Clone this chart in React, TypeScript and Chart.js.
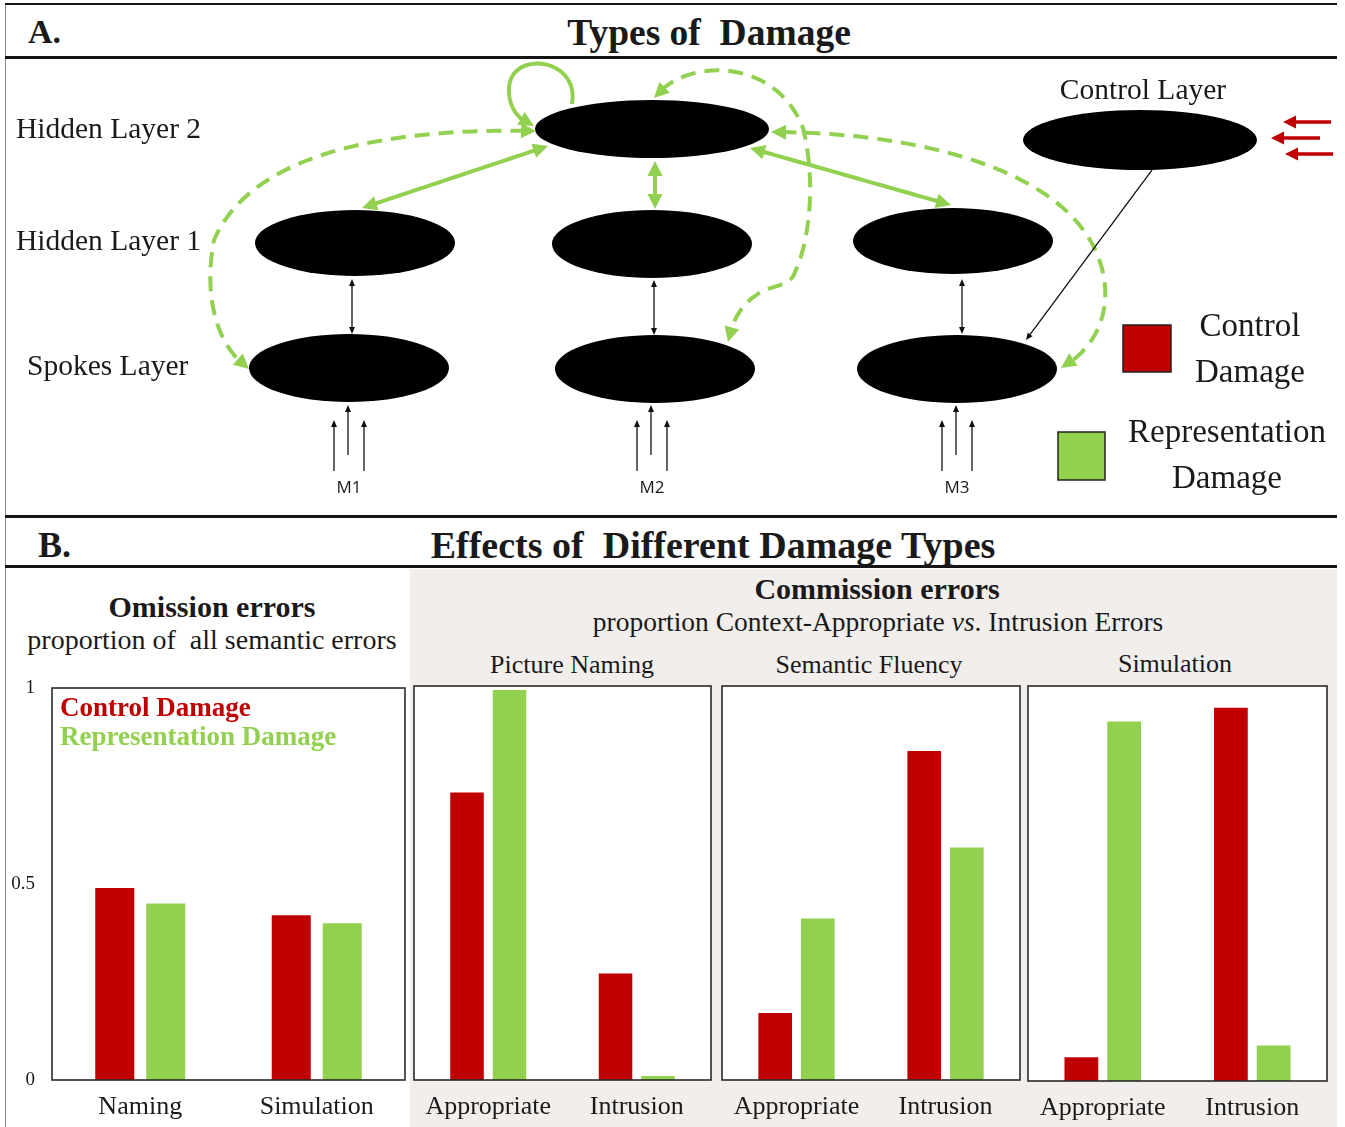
import React, { useEffect, useRef } from "react";
import { Chart, registerables } from "chart.js";

Chart.register(...registerables);

const RED = "#c00000";
const GREEN = "#92d050";
const INK = "#1a1a1a";
const PANEL_GRAY = "#f1eeec";
const SERIF = "'Liberation Serif', 'Times New Roman', serif";
const SANS = "'Open Sans', 'Liberation Sans', sans-serif";

// ---------- B: bar chart data ----------
const seriesLabels = ["Control Damage", "Representation Damage"];
const yTickValues = [0, 0.5, 1];

const omissionCategories = ["Naming", "Simulation"];
const omissionControl = [0.49, 0.42];
const omissionRepresentation = [0.45, 0.4];

const commissionCategories = ["Appropriate", "Intrusion"];
const pictureNamingControl = [0.73, 0.27];
const pictureNamingRepresentation = [0.99, 0.01];
const semanticFluencyControl = [0.17, 0.835];
const semanticFluencyRepresentation = [0.41, 0.59];
const simulationControl = [0.06, 0.945];
const simulationRepresentation = [0.91, 0.09];

// ---------- A: network diagram data ----------
const layerNames = ["Hidden Layer 2", "Hidden Layer 1", "Spokes Layer"];
const layerLabelX = [16, 16, 27];
const layerLabelY = [130, 242, 367];

// units: hidden2, hidden1 (x3), spokes (x3), control
const unitX = [652, 355, 652, 953, 349, 655, 957, 1140];
const unitY = [129, 243, 244, 241, 368, 369, 369, 140];
const unitRx = [117, 100, 100, 100, 100, 100, 100, 117];
const unitRy = [29, 33, 34, 33, 34, 34, 34, 30];

const modalityNames = ["M1", "M2", "M3"];
const modalityX = [349, 652, 957];
const modalityY = 488;
const inputOffsets = [-15, -1, 15];
const inputTop = [420, 405, 420];
const inputBottom = [471, 455, 471];

type Pt = [number, number];

// cubic Bezier chains: a start point followed by [c1, c2, end] triples
const loopPath: Pt[] = [[572, 104], [580, 56], [508, 50], [509, 90], [509, 108], [519, 121], [534, 126]];
const leftDashPath: Pt[] = [[536, 131], [410, 128], [255, 145], [214, 240], [204, 292], [214, 344], [249, 369]];
const midDashPath: Pt[] = [
  [654, 98], [684, 58], [775, 56], [803, 128],
  [816, 180], [810, 240], [795, 272],
  [790, 288], [770, 284], [755, 296],
  [740, 306], [731, 324], [728, 342],
];
const rightDashPath: Pt[] = [[771, 132], [920, 132], [1070, 170], [1100, 262], [1114, 304], [1100, 346], [1061, 368]];

// straight green connections (two-headed)
const greenLinks: number[][] = [
  [548, 146, 362, 208],
  [655, 161, 655, 209],
  [750, 148, 951, 205],
];
// thin black connections hidden1 <-> spokes
const thinLinks: number[][] = [
  [352, 279, 352, 334],
  [654, 280, 654, 335],
  [962, 279, 962, 334],
];
const controlLink = [1152, 170, 1026, 340];
// red inputs into the control layer
const redInputs: number[][] = [
  [1331, 122, 1283, 122],
  [1320, 138, 1271, 138],
  [1333, 154, 1285, 154],
];

const legendNames = [["Control", "Damage"], ["Representation", "Damage"]];
const legendColors = [RED, GREEN];
const legendBoxes = [[1123, 325, 48, 47], [1058, 432, 47, 48]];
const legendTextX = [1250, 1227];
const legendTextY = [[327, 373], [433, 479]];

// ---------- drawing helpers ----------
function sampleChain(chain: Pt[], X: (v: number) => number, Y: (v: number) => number): Pt[] {
  const p: Pt[] = chain.map(([x, y]) => [X(x), Y(y)] as Pt);
  const out: Pt[] = [p[0]];
  for (let i = 1; i + 2 < p.length; i += 3) {
    const a = p[i - 1], b = p[i], c = p[i + 1], d = p[i + 2];
    for (let k = 1; k <= 48; k++) {
      const t = k / 48, u = 1 - t;
      out.push([
        u * u * u * a[0] + 3 * u * u * t * b[0] + 3 * u * t * t * c[0] + t * t * t * d[0],
        u * u * u * a[1] + 3 * u * u * t * b[1] + 3 * u * t * t * c[1] + t * t * t * d[1],
      ]);
    }
  }
  return out;
}

function trimFront(pts: Pt[], len: number): Pt[] {
  const res = pts.slice();
  let rem = len;
  while (res.length > 2) {
    const dx = res[1][0] - res[0][0], dy = res[1][1] - res[0][1];
    const d = Math.hypot(dx, dy);
    if (d > rem) {
      const f = rem / d;
      res[0] = [res[0][0] + dx * f, res[0][1] + dy * f];
      break;
    }
    rem -= d;
    res.shift();
  }
  return res;
}

function headAngle(pts: Pt[], back: number): number {
  const tip = pts[0];
  for (let i = 1; i < pts.length; i++) {
    if (Math.hypot(pts[i][0] - tip[0], pts[i][1] - tip[1]) >= back) {
      return Math.atan2(tip[1] - pts[i][1], tip[0] - pts[i][0]);
    }
  }
  const l = pts[pts.length - 1];
  return Math.atan2(tip[1] - l[1], tip[0] - l[0]);
}

function drawHead(ctx: CanvasRenderingContext2D, tip: Pt, ang: number, len: number, half: number, color: string) {
  const bx = tip[0] - len * Math.cos(ang), by = tip[1] - len * Math.sin(ang);
  ctx.beginPath();
  ctx.moveTo(tip[0], tip[1]);
  ctx.lineTo(bx + half * Math.sin(ang), by - half * Math.cos(ang));
  ctx.lineTo(bx - half * Math.sin(ang), by + half * Math.cos(ang));
  ctx.closePath();
  ctx.fillStyle = color;
  ctx.fill();
}

type LinkStyle = { color: string; width: number; dash?: number[]; start?: boolean; end?: boolean; len: number; half: number };

function drawLink(ctx: CanvasRenderingContext2D, pts: Pt[], s: LinkStyle) {
  let line = pts;
  if (s.start) line = trimFront(line, s.len * 0.7);
  if (s.end) line = trimFront(line.slice().reverse(), s.len * 0.7).reverse();
  ctx.save();
  ctx.strokeStyle = s.color;
  ctx.lineWidth = s.width;
  ctx.lineCap = "butt";
  ctx.lineJoin = "round";
  ctx.setLineDash(s.dash || []);
  ctx.beginPath();
  line.forEach((p, i) => (i === 0 ? ctx.moveTo(p[0], p[1]) : ctx.lineTo(p[0], p[1])));
  ctx.stroke();
  ctx.setLineDash([]);
  if (s.start) drawHead(ctx, pts[0], headAngle(pts, s.len), s.len, s.half, s.color);
  if (s.end) {
    const r = pts.slice().reverse();
    drawHead(ctx, r[0], headAngle(r, s.len), s.len, s.half, s.color);
  }
  ctx.restore();
}

function straight(x1: number, y1: number, x2: number, y2: number): Pt[] {
  return [[x1, y1], [x1, y1], [x2, y2], [x2, y2]];
}

const diagramPlugin = {
  id: "networkDiagram",
  afterDatasetsDraw(chart: any) {
    const ctx: CanvasRenderingContext2D = chart.ctx;
    const xs = chart.scales.x, ys = chart.scales.y;
    const X = (v: number) => xs.getPixelForValue(v);
    const Y = (v: number) => ys.getPixelForValue(v);
    const sx = Math.abs(X(1) - X(0)), sy = Math.abs(Y(1) - Y(0));
    const pts = (c: Pt[]) => sampleChain(c, X, Y);

    ctx.save();
    // layer units
    ctx.fillStyle = "#000";
    unitX.forEach((cx, i) => {
      ctx.beginPath();
      ctx.ellipse(X(cx), Y(unitY[i]), unitRx[i] * sx, unitRy[i] * sy, 0, 0, Math.PI * 2);
      ctx.fill();
    });

    // representation connections
    const solidG: LinkStyle = { color: GREEN, width: 4, start: true, end: true, len: 15, half: 7.5 };
    greenLinks.forEach((l) => drawLink(ctx, pts(straight(l[0], l[1], l[2], l[3])), solidG));
    drawLink(ctx, pts(loopPath), { color: GREEN, width: 4, end: true, len: 15, half: 7.5 });
    const dashG: LinkStyle = { color: GREEN, width: 4, dash: [15, 9], start: true, end: true, len: 15, half: 7.5 };
    drawLink(ctx, pts(leftDashPath), dashG);
    drawLink(ctx, pts(midDashPath), dashG);
    drawLink(ctx, pts(rightDashPath), dashG);

    // thin black connections
    const thin: LinkStyle = { color: "#111", width: 1.3, start: true, end: true, len: 7, half: 3 };
    thinLinks.forEach((l) => drawLink(ctx, pts(straight(l[0], l[1], l[2], l[3])), thin));
    drawLink(ctx, pts(straight(controlLink[0], controlLink[1], controlLink[2], controlLink[3])), { ...thin, start: false });
    modalityX.forEach((mx) => {
      inputOffsets.forEach((o, k) => {
        drawLink(ctx, pts(straight(mx + o, inputBottom[k], mx + o, inputTop[k])), { ...thin, start: false });
      });
    });
    // control inputs
    redInputs.forEach((l) =>
      drawLink(ctx, pts(straight(l[0], l[1], l[2], l[3])), { color: RED, width: 3.5, end: true, len: 13, half: 6.5 })
    );

    // text
    ctx.fillStyle = INK;
    ctx.textBaseline = "middle";
    ctx.font = `29.5px ${SERIF}`;
    ctx.textAlign = "left";
    layerNames.forEach((n, i) => ctx.fillText(n, X(layerLabelX[i]), Y(layerLabelY[i])));
    ctx.textAlign = "center";
    ctx.fillText("Control Layer", X(1143), Y(91));
    ctx.font = `17px ${SANS}`;
    modalityNames.forEach((n, i) => ctx.fillText(n, X(modalityX[i]), Y(modalityY)));

    // legend
    legendNames.forEach((lines, i) => {
      const b = legendBoxes[i];
      ctx.fillStyle = legendColors[i];
      ctx.fillRect(X(b[0]), Y(b[1]), b[2] * sx, b[3] * sy);
      ctx.strokeStyle = "#222";
      ctx.lineWidth = 1.5;
      ctx.strokeRect(X(b[0]), Y(b[1]), b[2] * sx, b[3] * sy);
      ctx.fillStyle = INK;
      ctx.font = `33px ${SERIF}`;
      ctx.textAlign = "center";
      lines.forEach((t, k) => ctx.fillText(t, X(legendTextX[i]), Y(legendTextY[i][k])));
    });
    ctx.restore();
  },
};

function NetworkDiagram() {
  const ref = useRef<HTMLCanvasElement>(null);
  useEffect(() => {
    if (!ref.current) return;
    const chart = new Chart(ref.current, {
      type: "scatter",
      data: {
        datasets: [
          {
            label: "units",
            data: unitX.map((x, i) => ({ x, y: unitY[i] })),
            pointRadius: 0,
            showLine: false,
          },
        ],
      },
      options: {
        animation: false,
        responsive: false,
        maintainAspectRatio: false,
        events: [],
        layout: { padding: 0 },
        plugins: { legend: { display: false }, tooltip: { enabled: false } },
        scales: {
          x: { type: "linear", display: false, min: 0, max: 1345 },
          y: { type: "linear", display: false, min: 60, max: 515, reverse: true },
        },
      },
      plugins: [diagramPlugin],
    } as any);
    return () => chart.destroy();
  }, []);
  return (
    <canvas
      ref={ref}
      width={1345}
      height={455}
      style={{ position: "absolute", left: 0, top: 60, width: 1345, height: 455 }}
    />
  );
}

type Box = { left: number; right: number; top: number; bottom: number };

const panelFramePlugin = {
  id: "panelFrame",
  beforeDatasetsDraw(chart: any) {
    const { ctx, chartArea: a } = chart;
    ctx.save();
    ctx.fillStyle = "#ffffff";
    ctx.fillRect(a.left, a.top, a.right - a.left, a.bottom - a.top);
    ctx.restore();
  },
  afterDatasetsDraw(chart: any, _args: any, opts: any) {
    const { ctx, chartArea: a } = chart;
    ctx.save();
    ctx.strokeStyle = "#2a2a2a";
    ctx.lineWidth = 1.6;
    ctx.strokeRect(a.left, a.top, a.right - a.left, a.bottom - a.top);
    if (opts && opts.legend) {
      ctx.font = `bold 27px ${SERIF}`;
      ctx.textAlign = "left";
      ctx.textBaseline = "middle";
      chart.data.datasets.forEach((ds: any, i: number) => {
        ctx.fillStyle = ds.backgroundColor;
        ctx.fillText(ds.label, a.left + 8, a.top + 21 + i * 29);
      });
    }
    ctx.restore();
  },
};

function BarPanel(props: {
  box: Box;
  categories: string[];
  control: number[];
  representation: number[];
  showYAxis?: boolean;
  showLegend?: boolean;
  barPct: number;
  catPct: number;
}) {
  const { box, categories, control, representation, showYAxis, showLegend, barPct, catPct } = props;
  const ref = useRef<HTMLCanvasElement>(null);
  const canvasLeft = showYAxis ? 0 : box.left - 3;
  const canvasTop = box.top - 10;
  const width = box.right - canvasLeft + 4;
  const height = 1127 - canvasTop;
  const xHeight = height - 10 - (box.bottom - box.top);

  useEffect(() => {
    if (!ref.current) return;
    const chart = new Chart(ref.current, {
      type: "bar",
      data: {
        labels: categories,
        datasets: [
          { label: seriesLabels[0], data: control, backgroundColor: RED, borderWidth: 0, barPercentage: barPct, categoryPercentage: catPct },
          { label: seriesLabels[1], data: representation, backgroundColor: GREEN, borderWidth: 0, barPercentage: barPct, categoryPercentage: catPct },
        ],
      },
      options: {
        animation: false,
        responsive: false,
        maintainAspectRatio: false,
        events: [],
        layout: { padding: { top: 10, left: showYAxis ? 0 : 3, right: 4, bottom: 0 } },
        plugins: {
          legend: { display: false },
          tooltip: { enabled: false },
          panelFrame: { legend: !!showLegend },
        },
        scales: {
          x: {
            grid: { display: false, drawTicks: false },
            border: { display: false },
            ticks: { color: INK, font: { family: SERIF, size: 26 }, padding: 12, maxRotation: 0, autoSkip: false },
            afterFit: (s: any) => {
              s.height = xHeight;
              s.paddingLeft = 0;
              s.paddingRight = 0;
            },
          },
          y: {
            display: !!showYAxis,
            min: 0,
            max: 1,
            grid: { display: false, drawTicks: false },
            border: { display: false },
            afterBuildTicks: (s: any) => {
              s.ticks = yTickValues.map((v) => ({ value: v }));
            },
            ticks: {
              color: INK,
              font: { family: SERIF, size: 19 },
              padding: 17,
              callback: (v: any) => String(v),
            },
            afterFit: (s: any) => {
              if (showYAxis) s.width = box.left;
              s.paddingTop = 0;
              s.paddingBottom = 0;
            },
          },
        },
      },
      plugins: [panelFramePlugin],
    } as any);
    return () => chart.destroy();
  }, []);

  return (
    <canvas
      ref={ref}
      width={width}
      height={height}
      style={{ position: "absolute", left: canvasLeft, top: canvasTop, width, height }}
    />
  );
}

function Text(props: { x: number; y: number; size: number; bold?: boolean; align?: "center" | "left"; children: React.ReactNode; color?: string }) {
  const { x, y, size, bold, align = "center", children, color = INK } = props;
  return (
    <div
      style={{
        position: "absolute",
        left: x,
        top: y,
        transform: align === "center" ? "translate(-50%, -50%)" : "translate(0, -50%)",
        fontFamily: SERIF,
        fontSize: size,
        fontWeight: bold ? 700 : 400,
        lineHeight: 1,
        whiteSpace: "pre",
        color,
      }}
    >
      {children}
    </div>
  );
}

function Rule(props: { top: number; height: number }) {
  return (
    <div style={{ position: "absolute", left: 5, width: 1332, top: props.top, height: props.height, background: "#151515" }} />
  );
}

export default function App() {
  return (
    <div style={{ position: "absolute", left: 0, top: 0, width: 1345, height: 1127, background: "#fff", overflow: "hidden" }}>
      <div style={{ position: "absolute", left: 410, top: 569, width: 927, height: 558, background: PANEL_GRAY }} />
      <div style={{ position: "absolute", left: 5, top: 4, width: 1, height: 1123, background: "#8a8a8a" }} />
      <Rule top={3} height={2} />
      <Rule top={56} height={3} />
      <Rule top={515} height={3} />
      <Rule top={565} height={3} />

      <Text x={28} y={32} size={34} bold align="left">A.</Text>
      <Text x={709} y={33} size={37.5} bold>{"Types of  Damage"}</Text>
      <Text x={38} y={545} size={36} bold align="left">B.</Text>
      <Text x={713} y={545} size={38} bold>{"Effects of  Different Damage Types"}</Text>

      <NetworkDiagram />

      <Text x={212} y={607} size={30} bold>Omission errors</Text>
      <Text x={212} y={640} size={28}>{"proportion of  all semantic errors"}</Text>
      <Text x={877} y={589} size={30} bold>Commission errors</Text>
      <Text x={878} y={622} size={27.5}>
        proportion Context-Appropriate <i>vs</i>. Intrusion Errors
      </Text>
      <Text x={572} y={665} size={26}>Picture Naming</Text>
      <Text x={869} y={665} size={26}>Semantic Fluency</Text>
      <Text x={1175} y={664} size={26}>Simulation</Text>

      <BarPanel
        box={{ left: 52, right: 405, top: 688, bottom: 1080 }}
        categories={omissionCategories}
        control={omissionControl}
        representation={omissionRepresentation}
        showYAxis
        showLegend
        barPct={0.765}
        catPct={0.578}
      />
      <BarPanel
        box={{ left: 414, right: 711, top: 686, bottom: 1080 }}
        categories={commissionCategories}
        control={pictureNamingControl}
        representation={pictureNamingRepresentation}
        barPct={0.79}
        catPct={0.572}
      />
      <BarPanel
        box={{ left: 722, right: 1020, top: 686, bottom: 1080 }}
        categories={commissionCategories}
        control={semanticFluencyControl}
        representation={semanticFluencyRepresentation}
        barPct={0.79}
        catPct={0.572}
      />
      <BarPanel
        box={{ left: 1028, right: 1327, top: 686, bottom: 1081 }}
        categories={commissionCategories}
        control={simulationControl}
        representation={simulationRepresentation}
        barPct={0.79}
        catPct={0.572}
      />
    </div>
  );
}
